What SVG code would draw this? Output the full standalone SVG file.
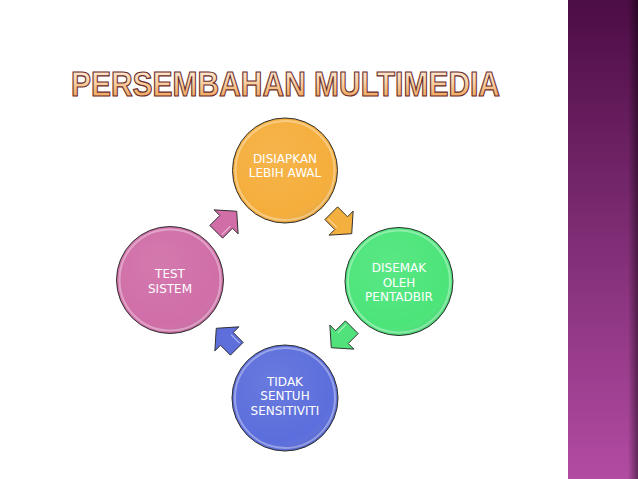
<svg xmlns="http://www.w3.org/2000/svg" width="638" height="479" viewBox="0 0 638 479">
<defs>
<linearGradient id="panel" x1="0" y1="0" x2="0" y2="1">
<stop offset="0" stop-color="#4c0c45"/>
<stop offset="0.45" stop-color="#7a2a70"/>
<stop offset="1" stop-color="#b24ba2"/>
</linearGradient>
<linearGradient id="edge" x1="0" y1="0" x2="1" y2="0">
<stop offset="0" stop-color="#000" stop-opacity="0"/>
<stop offset="1" stop-color="#000" stop-opacity="0.45"/>
</linearGradient>
<linearGradient id="titleFill" x1="0" y1="0" x2="0" y2="1">
<stop offset="0" stop-color="#fff4ea"/>
<stop offset="0.45" stop-color="#fbd3a6"/>
<stop offset="1" stop-color="#ec9640"/>
</linearGradient>
<radialGradient id="shade" cx="0.4" cy="0.35" r="0.7">
<stop offset="0" stop-color="#fff" stop-opacity="0.08"/>
<stop offset="0.8" stop-color="#fff" stop-opacity="0"/>
<stop offset="1" stop-color="#000" stop-opacity="0.12"/>
</radialGradient>
<path id="arr" d="M-11,-9 L3,-9 L3,-17 L18,0 L3,17 L3,9 L-11,9 Z"/>
</defs>
<style>
.circ{stroke:#2b2b2b;stroke-width:1;}
.rim{fill:none;stroke:#ffffff;stroke-opacity:0.35;stroke-width:2;}
.lbl{font-family:"DejaVu Sans","Liberation Sans",sans-serif;font-size:12px;fill:#ffffff;text-anchor:middle;}
.arrow{stroke:#2b2b2b;stroke-width:0.9;stroke-linejoin:miter;}
.hl{fill:none;stroke:#ffffff;stroke-opacity:0.5;stroke-width:1.2;}
</style>
<rect x="0" y="0" width="638" height="479" fill="#ffffff"/>
<g id="panel-bar">
<rect x="568" y="0" width="70" height="479" fill="url(#panel)"/>
<rect x="628" y="0" width="10" height="479" fill="url(#edge)"/>
</g>
<g id="title">
<text x="71" y="96" textLength="429" lengthAdjust="spacingAndGlyphs" font-family="'Liberation Sans',Arial,sans-serif" font-weight="bold" font-size="35" fill="url(#titleFill)" stroke="#6a2c2c" stroke-width="1.2">PERSEMBAHAN MULTIMEDIA</text>
</g>
<g id="connectors">
<g transform="translate(339,221) rotate(45)"><use href="#arr" class="arrow" fill="#f4b03e"/><path d="M-9,6 L3,6" class="hl"/></g>
<g transform="translate(344,335) rotate(135)"><use href="#arr" class="arrow" fill="#52e27c"/><path d="M-9,6 L3,6" class="hl"/></g>
<g transform="translate(229,341) rotate(225)"><use href="#arr" class="arrow" fill="#5e6fdc"/><path d="M-9,6 L3,6" class="hl"/></g>
<g transform="translate(224,224) rotate(-45)"><use href="#arr" class="arrow" fill="#d16ea8"/><path d="M-9,6 L3,6" class="hl"/></g>
</g>
<g id="node-disiapkan">
<circle cx="285" cy="170.5" r="52.5" class="circ" fill="#f5ae3c"/>
<circle cx="285" cy="170.5" r="52.5" fill="url(#shade)"/>
<circle cx="285" cy="170.5" r="49.5" class="rim"/>
<text class="lbl" x="285" y="162.5">DISIAPKAN</text>
<text class="lbl" x="285" y="177">LEBIH AWAL</text>
</g>
<g id="node-disemak">
<circle cx="399" cy="281.5" r="54" class="circ" fill="#4ce57a"/>
<circle cx="399" cy="281.5" r="54" fill="url(#shade)"/>
<circle cx="399" cy="281.5" r="51" class="rim"/>
<text class="lbl" x="399" y="272">DISEMAK</text>
<text class="lbl" x="399" y="287">OLEH</text>
<text class="lbl" x="399" y="301">PENTADBIR</text>
</g>
<g id="node-tidak">
<circle cx="285" cy="398" r="53" class="circ" fill="#5c6edc"/>
<circle cx="285" cy="398" r="53" fill="url(#shade)"/>
<circle cx="285" cy="398" r="50" class="rim"/>
<text class="lbl" x="285" y="385.5">TIDAK</text>
<text class="lbl" x="285" y="400">SENTUH</text>
<text class="lbl" x="285" y="415">SENSITIVITI</text>
</g>
<g id="node-test">
<circle cx="170" cy="280" r="53.5" class="circ" fill="#d06ea8"/>
<circle cx="170" cy="280" r="53.5" fill="url(#shade)"/>
<circle cx="170" cy="280" r="50.5" class="rim"/>
<text class="lbl" x="170" y="278">TEST</text>
<text class="lbl" x="170" y="293">SISTEM</text>
</g>
</svg>
